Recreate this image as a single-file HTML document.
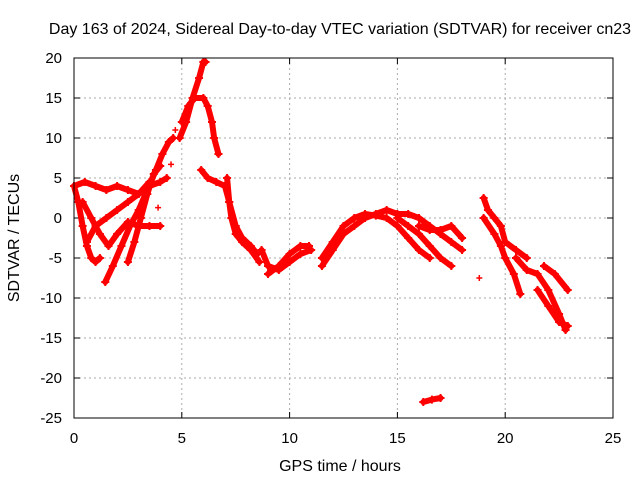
<!DOCTYPE html>
<html><head><meta charset="utf-8"><style>
body{margin:0;background:#fff;}
svg text{font-family:"Liberation Sans",sans-serif;font-size:15px;fill:#000;}
svg text.big{font-size:16px;}
</style></head><body>
<svg id="chart" width="640" height="480">
<text class="big" x="340" y="34" text-anchor="middle">Day 163 of 2024, Sidereal Day-to-day VTEC variation (SDTVAR) for receiver cn23</text>
<text class="big" x="340" y="471" text-anchor="middle">GPS time / hours</text>
<text class="big" x="19" y="238" text-anchor="middle" transform="rotate(-90 19 238)">SDTVAR / TECUs</text>
<g id="grid"></g><g id="axes"></g><g id="marks"></g>
<rect x="74" y="58" width="539" height="360" fill="none" stroke="#000" stroke-width="1"/>
</svg>
<script>
const xTicks=[0,5,10,15,20,25];
const yTicks=[20,15,10,5,0,-5,-10,-15,-20,-25];
const trackA=[[0,4],[0.2,2],[0.4,-1],[0.6,-3.5],[0.8,-5],[1.0,-5.5],[1.2,-5]];
const trackB=[[0,4],[0.5,4.5],[1,4],[1.5,3.5],[2,4],[2.5,3.5],[3,3],[3.5,4],[4,4.5],[4.3,5]];
const trackC=[[1.45,-8],[1.8,-6],[2.2,-3.5],[2.6,-1],[3,1],[3.4,3.5],[3.8,6],[4.1,8],[4.4,9.5],[4.6,10]];
const trackD=[[2.5,-5.5],[2.8,-3],[3.1,0],[3.4,3],[3.7,5.5],[4,6.5]];
const trackE=[[0.4,2],[0.8,0],[1.2,-2],[1.6,-3.5],[2,-2],[2.5,-0.5],[3,-1],[3.5,-1],[4,-1]];
const trackF=[[0.6,-3],[1,-1],[1.5,0],[2,1],[2.5,2],[3,3],[3.5,4.5]];
const trackG=[[4.9,10],[5.2,12],[5.5,15],[5.8,17.5],[6,19.5],[6.1,19.5]];
const trackH=[[5,12],[5.3,14],[5.6,15],[6,15],[6.2,14],[6.4,12],[6.5,10],[6.7,8]];
const trackI=[[5.9,6],[6.2,5],[6.6,4.5],[7,4],[7.2,2],[7.5,-1],[7.8,-2.5],[8.2,-3.5],[8.5,-4.5]];
const trackJ=[[7.1,5],[7.2,2],[7.3,0],[7.5,-2],[7.8,-3],[8.2,-4],[8.6,-5.5]];
const trackK=[[8.7,-4],[9,-6],[9.5,-6.5],[10,-5.5],[10.5,-4.5],[11,-4]];
const trackL=[[9,-7],[9.5,-6],[10,-4.5],[10.5,-3.5],[10.9,-3.5]];
const trackM=[[11.5,-6],[12,-4],[12.5,-2],[13,-1],[13.5,0],[14,0.5],[14.5,1],[15,0.5],[15.5,0.5],[16,0],[16.5,-1],[17,-2],[17.5,-3],[18,-4]];
const trackN=[[11.5,-5],[12,-3],[12.5,-1],[13,0],[13.5,0.5],[14,0.3],[14.5,0],[15,-1],[15.5,-2.5],[16,-4],[16.5,-5]];
const trackO=[[15,0],[15.5,-1],[16,-2],[16.5,-3.5],[17,-5],[17.5,-6]];
const trackP=[[16,-1],[16.5,-1.5],[17,-1.5],[17.5,-1],[18,-2.5]];
const trackQ=[[16.2,-23],[16.6,-22.7],[17,-22.5]];
const trackR=[[19,2.5],[19.2,1],[19.5,0],[19.8,-1],[20,-3],[20.5,-4],[21,-5]];
const trackS=[[19,0],[19.5,-2],[19.8,-3.5],[20,-5],[20.4,-7],[20.7,-9.5]];
const trackT=[[20.5,-5],[21,-6.5],[21.5,-7],[22,-9],[22.5,-12],[22.8,-14]];
const trackU=[[21.5,-9],[22,-11],[22.5,-13],[22.9,-13.5]];
const trackV=[[21.8,-6],[22.3,-7],[22.9,-9]];
const singles=[[3.9,1.3],[4.5,6.7],[4.7,11],[18.8,-7.5]];
const tracks=[trackA,trackB,trackC,trackD,trackE,trackF,trackG,trackH,trackI,trackJ,trackK,trackL,trackM,trackN,trackO,trackP,trackQ,trackR,trackS,trackT,trackU,trackV];
const X=t=>74+t*(539/25), Y=v=>218-v*8;
const ns="http://www.w3.org/2000/svg";
const grid=document.getElementById('grid'),axes=document.getElementById('axes'),marks=document.getElementById('marks');
function mk(tag,attrs,parent){const e=document.createElementNS(ns,tag);for(const k in attrs)e.setAttribute(k,attrs[k]);parent.appendChild(e);return e;}
xTicks.forEach(t=>{
 if(t>0&&t<25){const g=mk('line',{x1:X(t),x2:X(t),y1:58,y2:418,stroke:'#aaa','stroke-dasharray':'2,3'},grid);
 
 }
 const tx=mk('text',{x:X(t),y:443,'text-anchor':'middle'},axes);tx.textContent=t;
 
 
 mk('line',{x1:X(t),x2:X(t),y1:418,y2:412,stroke:'#000'},axes);
 mk('line',{x1:X(t),x2:X(t),y1:58,y2:64,stroke:'#000'},axes);
});
yTicks.forEach(v=>{
 if(v<20&&v>-25){const g=mk('line',{x1:74,x2:613,y1:Y(v),y2:Y(v),stroke:'#aaa','stroke-dasharray':'2,3'},grid);
 
 }
 const tx=mk('text',{x:62,y:Y(v)+5,'text-anchor':'end'},axes);tx.textContent=v;
 
 
 mk('line',{x1:74,x2:80,y1:Y(v),y2:Y(v),stroke:'#000'},axes);
 mk('line',{x1:613,x2:607,y1:Y(v),y2:Y(v),stroke:'#000'},axes);
});
tracks.forEach(tr=>{
 const pl=mk('polyline',{points:tr.map(p=>X(p[0])+','+Y(p[1])).join(' '),fill:'none',stroke:'#f00','stroke-width':6,'stroke-linejoin':'round','stroke-linecap':'round'},marks);
 
 
 tr.forEach(p=>{const m=mk('path',{d:`M${X(p[0])-4},${Y(p[1])}h8M${X(p[0])},${Y(p[1])-4}v8`,stroke:'#f00','stroke-width':2},marks);
 
 });
});
singles.forEach(p=>{const m=mk('path',{d:`M${X(p[0])-3},${Y(p[1])}h6M${X(p[0])},${Y(p[1])-3}v6`,stroke:'#f00','stroke-width':1.5},marks);
 
 });
</script>
</body></html>
